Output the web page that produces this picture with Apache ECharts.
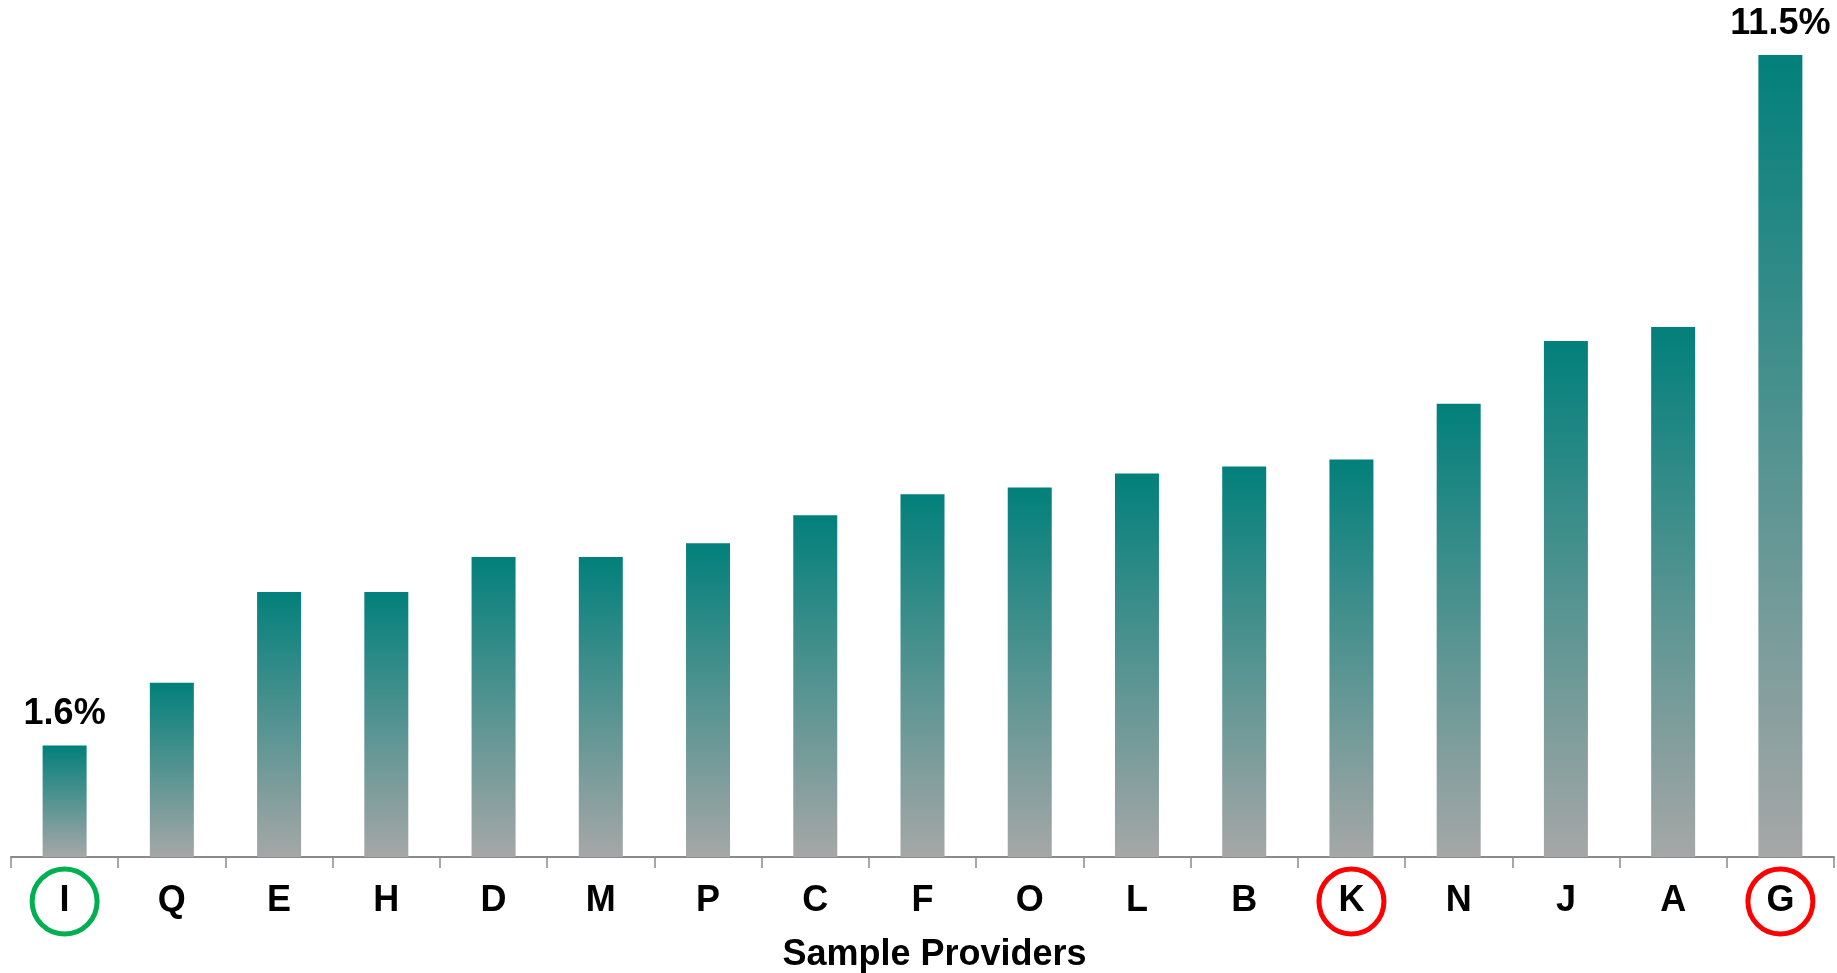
<!DOCTYPE html>
<html>
<head>
<meta charset="utf-8">
<script src="https://cdn.jsdelivr.net/npm/echarts@6/dist/echarts.min.js"></script>
<style>
html,body{margin:0;padding:0;background:#fff;}
#chart{width:1837px;height:973px;}
</style>
</head>
<body>
<div id="chart"></div>
<script>
const categories = ['I','Q','E','H','D','M','P','C','F','O','L','B','K','N','J','A','G'];
const values = [1.6, 2.5, 3.8, 3.8, 4.3, 4.3, 4.5, 4.9, 5.2, 5.3, 5.5, 5.6, 5.7, 6.5, 7.4, 7.6, 11.5];
const labeledCategories = ['I','G'];
const greenCircled = ['I'];
const redCircled = ['K','G'];
const axisTitle = 'Sample Providers';

const FONT = '"Liberation Sans", Arial, sans-serif';
const chart = echarts.init(document.getElementById('chart'), null, {renderer:'canvas'});

const barColor = new echarts.graphic.LinearGradient(0, 0, 0, 1, [
  {offset: 0, color: '#02807b'},
  {offset: 1, color: '#a6a7a7'}
]);

const seriesData = values.map((v, i) => ({
  value: v,
  label: {show: labeledCategories.indexOf(categories[i]) >= 0}
}));

const richBase = {fontSize: 36, fontWeight: 'bold', fontFamily: FONT, color: '#000',
  width: 65, height: 65, lineHeight: 65, align: 'center', verticalAlign: 'middle'};

chart.setOption({
  animation: false,
  grid: {left: 11, right: 3, top: 55, bottom: 116, containLabel: false, outerBoundsMode: 'none'},
  xAxis: {
    type: 'category',
    data: categories,
    boundaryGap: true,
    axisLine: {show: true, lineStyle: {color: '#8a8a8a', width: 2}},
    axisTick: {show: true, length: 11, lineStyle: {color: '#8a8a8a', width: 1.5}},
    axisLabel: {
      interval: 0,
      margin: 12,
      formatter: function (val) {
        if (greenCircled.indexOf(val) >= 0) return '{g|' + val + '}';
        if (redCircled.indexOf(val) >= 0) return '{r|' + val + '}';
        return '{n|' + val + '}';
      },
      rich: {
        n: Object.assign({}, richBase),
        g: Object.assign({}, richBase, {borderColor: '#00b050', borderWidth: 5, borderRadius: 35}),
        r: Object.assign({}, richBase, {borderColor: '#ff0000', borderWidth: 5, borderRadius: 35})
      }
    },
    name: axisTitle,
    nameLocation: 'middle',
    nameGap: 80,
    nameMoveOverlap: false,
    nameTextStyle: {fontSize: 36, fontWeight: 'bold', fontFamily: FONT, color: '#000', padding: [0, 0, 0, 24]}
  },
  yAxis: {
    type: 'value',
    min: 0,
    max: 11.5,
    show: false,
    splitLine: {show: false}
  },
  series: [{
    type: 'bar',
    data: seriesData,
    barWidth: 44,
    itemStyle: {color: barColor},
    label: {
      position: 'top',
      distance: 13,
      formatter: function (p) { return p.value.toFixed(1) + '%'; },
      fontSize: 36,
      fontWeight: 'bold',
      fontFamily: FONT,
      color: '#000'
    }
  }]
});
</script>
</body>
</html>
